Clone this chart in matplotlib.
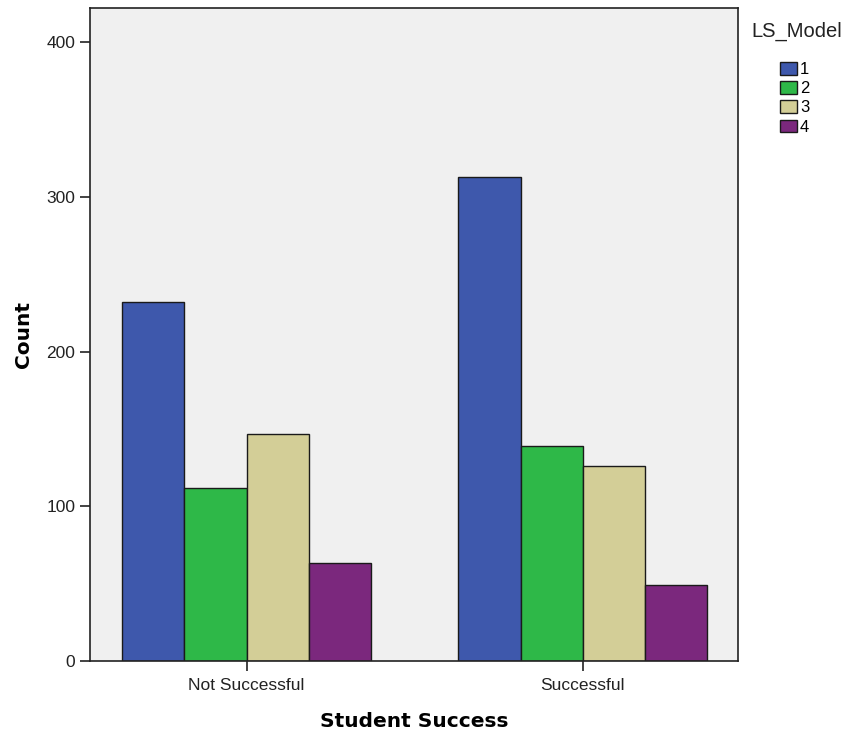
import numpy as np
import matplotlib.pyplot as plt
from matplotlib.patches import Patch

# data
categories = ['Not Successful', 'Successful']
model_labels = ['1', '2', '3', '4']
model_1 = [232, 313]
model_2 = [112, 139]
model_3 = [147, 126]
model_4 = [63, 49]

colors = ['#3E58AC', '#2EB848', '#D3CE97', '#7B287D']
BG = '#F0F0F0'

plt.rcParams['font.family'] = ['Liberation Sans', 'DejaVu Sans']

fig = plt.figure(figsize=(8.47, 7.34), dpi=100, facecolor='white')
ax = fig.add_axes([0.1063, 0.0995, 0.7650, 0.8895])
ax.set_facecolor(BG)

x = np.arange(len(categories))
width = 0.185
series = [model_1, model_2, model_3, model_4]
for i, vals in enumerate(series):
    offset = (i - 1.5) * width
    ax.bar(x + offset, vals, width, color=colors[i], edgecolor='#1a1a1a',
           linewidth=1.0, label=model_labels[i], zorder=2)

ax.set_xlim(-0.466, 1.462)
ax.set_ylim(0, 422)
ax.set_yticks([0, 100, 200, 300, 400])
ax.set_xticks(x)
ax.set_xticklabels(categories)
ax.tick_params(axis='both', direction='out', length=7, width=1.2,
               labelsize=12.5, colors='#222222')
ax.tick_params(axis='x', pad=5)
for s in ax.spines.values():
    s.set_linewidth(1.2)
    s.set_color('#222222')

ax.set_ylabel('Count', family='DejaVu Sans', fontweight='bold', fontsize=14.5, labelpad=10)
ax.set_xlabel('Student Success', family='DejaVu Sans', fontweight='bold', fontsize=14.5, labelpad=14)

# legend: title drawn separately so the gap below it matches
fig.text(797 / 847, 1 - 31 / 734, 'LS_Model', ha='center', va='center',
         fontsize=14.5, color='#222222')
handles = [Patch(facecolor=c, edgecolor='#1a1a1a', linewidth=1.0) for c in colors]
fig.legend(handles, model_labels, loc='upper left',
           bbox_to_anchor=(780 / 847, 1 - 62 / 734), frameon=False, fontsize=12,
           handlelength=1.0, handleheight=0.8, borderpad=0, borderaxespad=0,
           handletextpad=0.2, labelspacing=0.24)

fig.savefig('out.png', dpi=100, facecolor='white')
